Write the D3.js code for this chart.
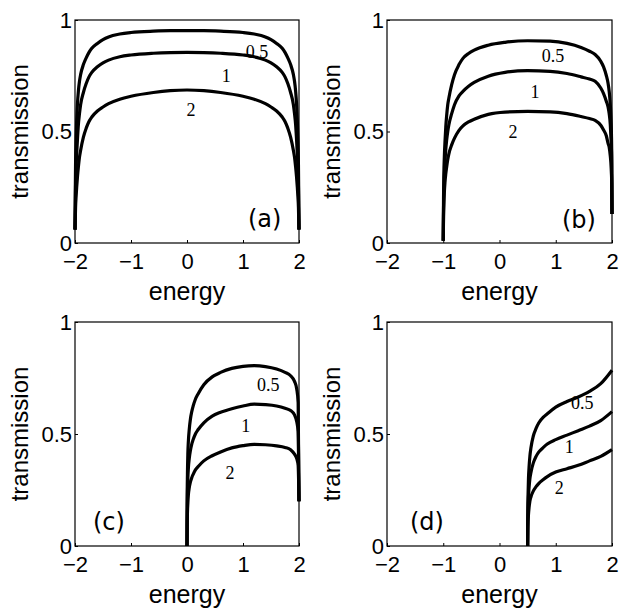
<!DOCTYPE html>
<html>
<head>
<meta charset="utf-8">
<script src="https://cdn.jsdelivr.net/npm/d3@7"></script>
<style>
  body { margin: 0; background: #fff; }
  svg { display: block; }
</style>
</head>
<body>
<div id="container"></div>
<script>
/* DATA - values */
const curveNames = ["0.5", "1", "2"];
const panelNames = ["(a)", "(b)", "(c)", "(d)"];
const xTicks = [-2, -1, 0, 1, 2];
const yTicks = [0, 0.5, 1];

// panel (a)
const energyA = [-2, -1.995, -1.99, -1.98, -1.97, -1.955, -1.94, -1.92, -1.9, -1.85, -1.8, -1.75, -1.7, -1.6, -1.5, -1.4, -1.2, -1, -0.6, -0.3, 0,
  0.3, 0.6, 1, 1.2, 1.4, 1.5, 1.6, 1.7, 1.75, 1.8, 1.85, 1.9, 1.92, 1.94, 1.955, 1.97, 1.98, 1.99, 1.995, 2];
const transA05 = [0.06, 0.22, 0.35, 0.47, 0.55, 0.63, 0.68, 0.725, 0.755, 0.80, 0.83, 0.855, 0.873, 0.895, 0.912, 0.924, 0.937, 0.944, 0.95, 0.952, 0.952,
  0.952, 0.95, 0.944, 0.937, 0.924, 0.912, 0.895, 0.873, 0.855, 0.83, 0.80, 0.755, 0.725, 0.68, 0.63, 0.55, 0.47, 0.35, 0.22, 0.06];
const transA1 = [0.06, 0.16, 0.25, 0.34, 0.40, 0.47, 0.53, 0.58, 0.62, 0.675, 0.715, 0.745, 0.765, 0.79, 0.808, 0.82, 0.835, 0.843, 0.851, 0.854, 0.855,
  0.854, 0.851, 0.843, 0.835, 0.82, 0.808, 0.79, 0.765, 0.745, 0.715, 0.675, 0.62, 0.58, 0.53, 0.47, 0.40, 0.34, 0.25, 0.16, 0.06];
const transA2 = [0.06, 0.11, 0.16, 0.21, 0.25, 0.30, 0.34, 0.385, 0.415, 0.475, 0.515, 0.545, 0.565, 0.592, 0.61, 0.625, 0.645, 0.658, 0.675, 0.683, 0.686,
  0.683, 0.675, 0.658, 0.645, 0.625, 0.61, 0.592, 0.565, 0.545, 0.515, 0.475, 0.415, 0.385, 0.34, 0.30, 0.25, 0.21, 0.16, 0.11, 0.06];

// panel (b)
const energyB = [-1, -0.995, -0.99, -0.98, -0.97, -0.955, -0.94, -0.92, -0.9, -0.85, -0.8, -0.72, -0.65, -0.55, -0.45, -0.2, 0.1, 0.5, 0.9,
  1.2, 1.45, 1.6, 1.7, 1.8, 1.85, 1.9, 1.93, 1.95, 1.97, 1.98, 1.99, 1.995, 2];
const transB05 = [0.01, 0.2, 0.3, 0.39, 0.45, 0.52, 0.57, 0.62, 0.65, 0.71, 0.755, 0.8, 0.828, 0.85, 0.865, 0.887, 0.9, 0.907, 0.905,
  0.895, 0.877, 0.86, 0.845, 0.815, 0.79, 0.75, 0.716, 0.68, 0.62, 0.57, 0.49, 0.4, 0.13];
const transB1 = [0.01, 0.15, 0.22, 0.3, 0.36, 0.42, 0.46, 0.5, 0.53, 0.58, 0.62, 0.66, 0.68, 0.703, 0.72, 0.748, 0.765, 0.773, 0.77,
  0.76, 0.745, 0.735, 0.725, 0.695, 0.67, 0.635, 0.61, 0.58, 0.53, 0.48, 0.42, 0.35, 0.13];
const transB2 = [0.01, 0.12, 0.17, 0.23, 0.27, 0.31, 0.34, 0.375, 0.40, 0.44, 0.47, 0.505, 0.525, 0.543, 0.555, 0.577, 0.587, 0.59, 0.588,
  0.58, 0.567, 0.558, 0.55, 0.528, 0.507, 0.48, 0.447, 0.43, 0.39, 0.36, 0.31, 0.27, 0.13];

// panel (c)
const energyC = [0, 0.003, 0.008, 0.015, 0.025, 0.04, 0.06, 0.085, 0.11, 0.15, 0.2, 0.3, 0.45, 0.6, 0.8, 1.0, 1.2, 1.4, 1.6, 1.75, 1.85, 1.92, 1.96, 1.985, 2];
const transC05 = [0, 0.2, 0.32, 0.41, 0.47, 0.52, 0.565, 0.6, 0.625, 0.655, 0.68, 0.72, 0.755, 0.775, 0.793, 0.802, 0.805, 0.801, 0.79, 0.775, 0.76, 0.735, 0.70, 0.64, 0.2];
const transC1 = [0, 0.14, 0.23, 0.3, 0.35, 0.39, 0.425, 0.455, 0.475, 0.5, 0.52, 0.55, 0.58, 0.597, 0.613, 0.625, 0.633, 0.631, 0.625, 0.615, 0.605, 0.585, 0.555, 0.51, 0.2];
const transC2 = [0, 0.09, 0.15, 0.19, 0.23, 0.26, 0.285, 0.305, 0.32, 0.34, 0.355, 0.38, 0.403, 0.42, 0.438, 0.448, 0.454, 0.452, 0.447, 0.44, 0.43, 0.41, 0.39, 0.36, 0.2];

// panel (d)
const energyD = [0.5, 0.503, 0.508, 0.515, 0.525, 0.54, 0.56, 0.6, 0.65, 0.7, 0.78, 0.85, 1.0, 1.2, 1.4, 1.6, 1.8, 2.0];
const transD05 = [0, 0.15, 0.23, 0.3, 0.35, 0.4, 0.44, 0.49, 0.525, 0.55, 0.575, 0.59, 0.62, 0.645, 0.665, 0.69, 0.725, 0.785];
const transD1 = [0, 0.11, 0.17, 0.22, 0.26, 0.3, 0.33, 0.37, 0.4, 0.42, 0.44, 0.455, 0.475, 0.495, 0.515, 0.535, 0.56, 0.60];
const transD2 = [0, 0.07, 0.11, 0.14, 0.17, 0.2, 0.22, 0.245, 0.265, 0.28, 0.297, 0.31, 0.33, 0.345, 0.36, 0.38, 0.40, 0.43];

/* LAYOUT */
const width = 619, height = 610;

// frame of each panel, where its tag sits, and where the curve labels go (in data units)
const layout = [
  { left: 75, right: 299, top: 20, bottom: 243, tag: [248, 227],
    labels: [[1.25, 0.83], [0.70, 0.72], [0.07, 0.57]] },
  { left: 387, right: 612, top: 20, bottom: 243, tag: [562, 228],
    labels: [[0.95, 0.81], [0.63, 0.65], [0.24, 0.47]] },
  { left: 75, right: 299, top: 322, bottom: 546, tag: [93, 530],
    labels: [[1.45, 0.69], [1.05, 0.51], [0.77, 0.30]] },
  { left: 387, right: 612, top: 322, bottom: 546, tag: [410, 530],
    labels: [[1.47, 0.61], [1.24, 0.415], [1.06, 0.23]] }
];

const panels = [
  { energy: energyA, series: [transA05, transA1, transA2] },
  { energy: energyB, series: [transB05, transB1, transB2] },
  { energy: energyC, series: [transC05, transC1, transC2] },
  { energy: energyD, series: [transD05, transD1, transD2] }
];

const sans = "'Liberation Sans', Arial, Helvetica, sans-serif";
const serif = "'Liberation Serif', 'Times New Roman', serif";
const fmt = d3.format("~g");

const svg = d3.select("#container")
  .append("svg")
  .attr("width", width)
  .attr("height", height);

svg.append("rect")
  .attr("width", width)
  .attr("height", height)
  .attr("fill", "#fff");

panels.forEach((p, i) => {
  const box = layout[i];

  const xScale = d3.scaleLinear().domain([-2, 2]).range([box.left, box.right]);
  const yScale = d3.scaleLinear().domain([0, 1]).range([box.bottom, box.top]);

  const g = svg.append("g");

  // + AXES (small inward ticks, labels outside)
  const xAxis = d3.axisBottom(xScale)
    .tickValues(xTicks)
    .tickFormat(fmt)
    .tickSizeInner(-3)
    .tickSizeOuter(0);

  const yAxis = d3.axisLeft(yScale)
    .tickValues(yTicks)
    .tickFormat(fmt)
    .tickSizeInner(-3)
    .tickSizeOuter(0);

  const gx = g.append("g")
    .attr("transform", `translate(0,${box.bottom})`)
    .call(xAxis);
  gx.select(".domain").remove();
  gx.selectAll("line").attr("stroke", "#000");
  gx.selectAll("text")
    .attr("y", 26)
    .attr("dy", null)
    .attr("fill", "#000")
    .style("font-family", sans)
    .style("font-size", "22px");

  const gy = g.append("g")
    .attr("transform", `translate(${box.left},0)`)
    .call(yAxis);
  gy.select(".domain").remove();
  gy.selectAll("line").attr("stroke", "#000");
  gy.selectAll("text")
    .attr("x", -3)
    .attr("dy", "0.33em")
    .attr("fill", "#000")
    .style("font-family", sans)
    .style("font-size", "22px");

  // + FRAME
  g.append("rect")
    .attr("x", box.left)
    .attr("y", box.top)
    .attr("width", box.right - box.left)
    .attr("height", box.bottom - box.top)
    .attr("fill", "none")
    .attr("stroke", "#000")
    .attr("stroke-width", 1.2);

  // + CURVES
  const line = d3.line()
    .x(d => xScale(d[0]))
    .y(d => yScale(d[1]))
    .curve(d3.curveMonotoneX);

  g.selectAll("path.curve")
    .data(p.series.map(s => s.map((v, k) => [p.energy[k], v])))
    .join("path")
    .attr("class", "curve")
    .attr("d", line)
    .attr("fill", "none")
    .attr("stroke", "#000")
    .attr("stroke-width", 3.2)
    .attr("stroke-linejoin", "round");

  // + CURVE LABELS
  g.selectAll("text.curve-label")
    .data(box.labels)
    .join("text")
    .attr("class", "curve-label")
    .attr("x", d => xScale(d[0]))
    .attr("y", d => yScale(d[1]))
    .attr("text-anchor", "middle")
    .style("font-family", serif)
    .style("font-size", "18px")
    .text((d, k) => curveNames[k]);

  // + PANEL TAG
  g.append("text")
    .attr("x", box.tag[0])
    .attr("y", box.tag[1])
    .style("font-family", "'DejaVu Sans', sans-serif")
    .style("font-size", "24px")
    .text(panelNames[i]);

  // + AXIS TITLES
  g.append("text")
    .attr("x", (box.left + box.right) / 2)
    .attr("y", box.bottom + 57)
    .attr("text-anchor", "middle")
    .style("font-family", sans)
    .style("font-size", "25px")
    .text("energy");

  g.append("text")
    .attr("transform", `translate(${box.left - 47},${(box.top + box.bottom) / 2}) rotate(-90)`)
    .attr("text-anchor", "middle")
    .style("font-family", sans)
    .style("font-size", "24px")
    .text("transmission");
});
</script>
</body>
</html>
